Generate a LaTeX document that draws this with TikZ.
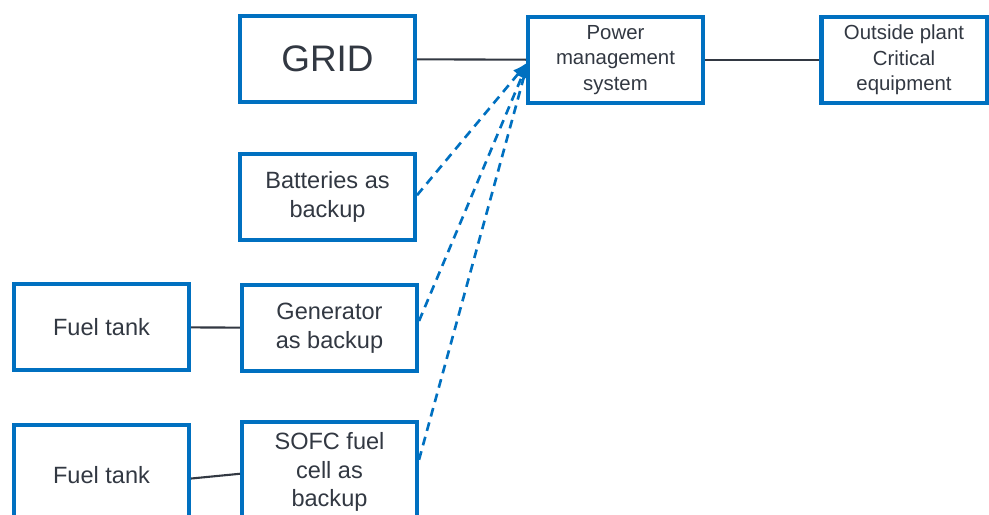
\documentclass[tikz,border=0pt]{standalone}
\usepackage{fontspec}
\setmainfont{Liberation Sans}
\usepackage{xcolor}
\usetikzlibrary{arrows.meta}
\definecolor{boxblue}{RGB}{0, 112, 192}
\definecolor{inkgray}{RGB}{50, 56, 66}

\begin{document}
\begin{tikzpicture}[x=0.2mm, y=-0.2mm, >={Latex[length=9pt,width=7pt]},
    unit/.style={draw=boxblue, line width=2.3pt, fill=white, text=inkgray,
        minimum width=3.5cm, minimum height=1.72cm, align=center,
        font=\fontsize{13.4}{16.4}\selectfont},
    smallunit/.style={unit, font=\fontsize{11.6}{14.5}\selectfont},
    wire/.style={inkgray, line width=1.2pt},
    backup/.style={->, boxblue, line width=1.5pt, dash pattern=on 5pt off 3.5pt}]
    \useasboundingbox (0,0) rectangle (989,514);
    
    \node[unit, font=\fontsize{21}{25}\selectfont] (grid) at (327.5,59) {GRID};
    \node[smallunit] (pms) at (615.5,60) {Power\\management\\system};
    \node[smallunit, minimum width=3.3cm] (load) at (904,60) {Outside plant\\Critical\\equipment};
    \node[unit] (batt) at (327.5,197) {Batteries as\\backup};
    \node[unit] (tank1) at (101.5,327) {Fuel tank};
    \node[unit] (gen) at (329.5,328) {Generator\\as backup};
    % bottom row runs off the page
    \node[unit, minimum height=2cm] (tank2) at (101.5,475) {Fuel tank};
    \node[unit, minimum height=2cm] (sofc) at (329.5,472) {SOFC fuel\\cell as\\backup};
    
    \draw[wire] (grid) -- (pms);
    \draw[wire] (pms) -- (load);
    \draw[wire] (tank1) -- (gen);
    \draw[wire] ([yshift=-2pt]tank2.east) -- ([yshift=-1pt]sofc.west);
    
    \coordinate (pin) at (528,62);
    \draw[backup] ([yshift=1pt]batt.east) -- (pin);
    \draw[backup] ([yshift=4pt]gen.east) -- (pin);
    \draw[backup] ([yshift=7pt]sofc.east) -- (pin);
\end{tikzpicture}
\end{document}
